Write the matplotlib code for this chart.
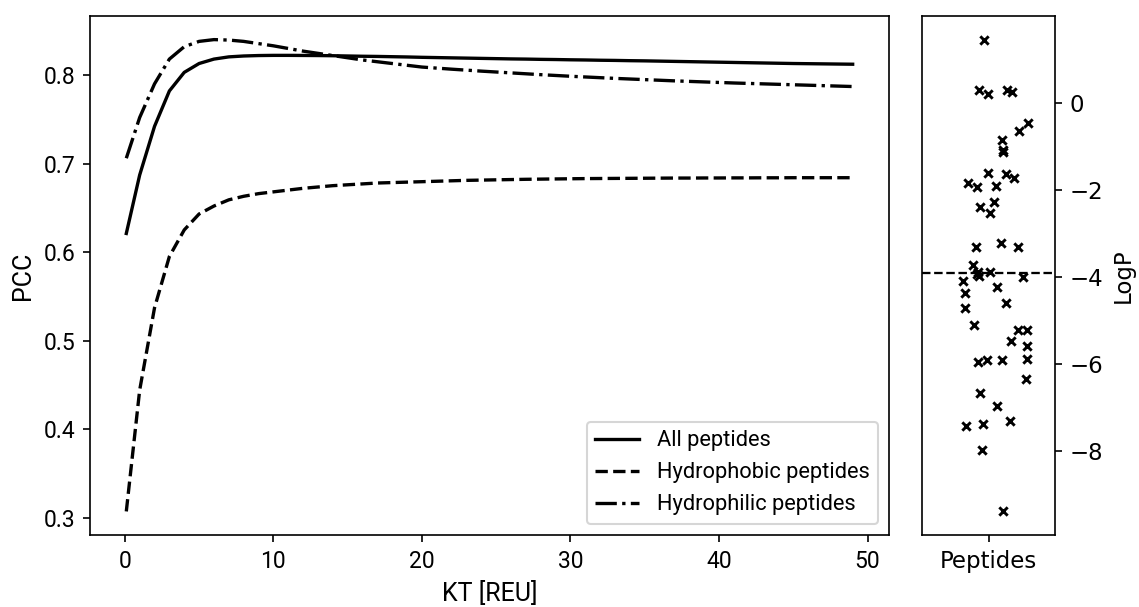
import os
import numpy as np
import matplotlib
matplotlib.use('Agg')
from matplotlib import pyplot as plt
from matplotlib import font_manager
from matplotlib.font_manager import FontProperties

# condensed-ish font for the left panel, if present
names = {f.name for f in font_manager.fontManager.ttflist}
cond = 'Liberation Sans Narrow' if 'Liberation Sans Narrow' in names else 'Roboto'
# right panel uses matplotlib's own DejaVu Sans
dv_path = os.path.join(matplotlib.get_data_path(), 'fonts', 'ttf', 'DejaVuSans.ttf')

kt = [0.1, 1, 2, 3, 4, 5, 6, 7, 8, 9,
      10, 11, 12, 13, 14, 15, 16, 17, 18, 19,
      20, 21, 22, 23, 24, 25, 26, 27, 28, 29,
      30, 31, 32, 33, 34, 35, 36, 37, 38, 39,
      40, 41, 42, 43, 44, 45, 46, 47, 48, 49]

pcc_all = [0.621, 0.687, 0.742, 0.782, 0.803, 0.813, 0.818, 0.8205, 0.8215, 0.822,
           0.8222, 0.8222, 0.8221, 0.822, 0.8218, 0.8215, 0.8212, 0.821, 0.8207, 0.8204,
           0.820, 0.8197, 0.8194, 0.8191, 0.8188, 0.8185, 0.8182, 0.818, 0.8177, 0.8175,
           0.8172, 0.817, 0.8167, 0.8165, 0.8162, 0.816, 0.8157, 0.8154, 0.8151, 0.8148,
           0.8145, 0.8142, 0.8139, 0.8136, 0.8133, 0.813, 0.8128, 0.8126, 0.8124, 0.8122]

pcc_phobic = [0.307, 0.444, 0.537, 0.595, 0.625, 0.643, 0.652, 0.659, 0.663, 0.666,
              0.668, 0.670, 0.672, 0.6735, 0.675, 0.676, 0.677, 0.678, 0.6785, 0.679,
              0.6795, 0.680, 0.6805, 0.681, 0.6813, 0.6816, 0.6819, 0.6822, 0.6824, 0.6826,
              0.6828, 0.683, 0.6831, 0.6832, 0.6833, 0.6834, 0.6835, 0.6836, 0.6836, 0.6837,
              0.6837, 0.6838, 0.6838, 0.6839, 0.6839, 0.684, 0.684, 0.684, 0.684, 0.684]

pcc_philic = [0.706, 0.752, 0.790, 0.818, 0.832, 0.838, 0.840, 0.8395, 0.838, 0.8355,
              0.833, 0.830, 0.827, 0.8245, 0.822, 0.8195, 0.817, 0.815, 0.813, 0.811,
              0.809, 0.8078, 0.8066, 0.8055, 0.8044, 0.8034, 0.8024, 0.8014, 0.8004, 0.7995,
              0.7986, 0.7978, 0.797, 0.7962, 0.7955, 0.7948, 0.7941, 0.7934, 0.7928, 0.7922,
              0.7916, 0.791, 0.7905, 0.790, 0.7895, 0.789, 0.7885, 0.788, 0.7875, 0.787]

labels = ['All peptides', 'Hydrophobic peptides', 'Hydrophilic peptides']

# peptide LogP values, with jitter positions
logp = [1.458, 0.290, 0.207, 0.290, 0.253, -0.461, -0.645, -0.845, -1.075, -1.137,
        -1.621, -1.628, -1.727, -1.842, -1.934, -1.920, -2.266, -2.395, -2.533, -3.302,
        -3.224, -3.302, -3.723, -3.878, -3.977, -3.930, -3.878, -3.993, -4.085, -4.375,
        -4.237, -4.720, -4.605, -5.105, -5.220, -5.220, -5.473, -5.588, -5.964, -5.911,
        -5.911, -5.888, -6.355, -6.677, -6.970, -7.315, -7.430, -7.384, -7.990, -9.394]
jitter = [-0.032, -0.069, -0.006, 0.141, 0.177, 0.297, 0.232, 0.099, 0.107, 0.111,
          -0.006, 0.132, 0.192, -0.152, -0.089, 0.056, 0.044, -0.064, 0.011, -0.094,
          0.094, 0.224, -0.119, -0.077, -0.069, -0.090, 0.011, 0.262, -0.189, -0.174,
          0.062, -0.174, 0.132, -0.109, 0.220, 0.287, 0.169, 0.287, -0.077, -0.014,
          0.102, 0.292, 0.282, -0.064, 0.066, 0.162, -0.167, -0.039, -0.047, 0.109]

fig = plt.figure(figsize=(1139/150, 607/150), dpi=150)
ax = fig.add_axes([0.079, 0.1186, 0.7015, 0.855])
ax2 = fig.add_axes([0.8095, 0.1186, 0.1168, 0.855])

ax.plot(kt, pcc_all, 'k-', lw=1.6, label=labels[0])
ax.plot(kt, pcc_phobic, 'k--', lw=1.6, label=labels[1])
ax.plot(kt, pcc_philic, 'k-.', lw=1.6, label=labels[2])
ax.set_xticks([0, 10, 20, 30, 40, 50])
ax.set_yticks([0.3, 0.4, 0.5, 0.6, 0.7, 0.8])
ax.set_xlabel('KT [REU]', fontsize=12, family=cond)
ax.set_ylabel('PCC', fontsize=12, family=cond)
for t in ax.get_xticklabels() + ax.get_yticklabels():
    t.set_fontfamily(cond)
    t.set_fontsize(11)
ax.legend(loc='lower right', prop={'family': cond, 'size': 10.5})

dv = FontProperties(fname=dv_path, size=11)
ax2.scatter(jitter, logp, marker='x', c='k', s=16, linewidths=1.4)
ax2.axhline(np.median(logp), color='k', ls='--', lw=1.1)
ax2.set_xlim(-0.5, 0.5)
ax2.set_xticks([0])
ax2.set_xticklabels(['Peptides'])
ax2.yaxis.tick_right()
ax2.yaxis.set_label_position('right')
ax2.set_yticks([0, -2, -4, -6, -8])
for t in ax2.get_yticklabels() + ax2.get_xticklabels():
    t.set_fontproperties(dv)
ax2.set_ylabel('LogP', fontproperties=dv)

fig.savefig('out.png', dpi=150)
